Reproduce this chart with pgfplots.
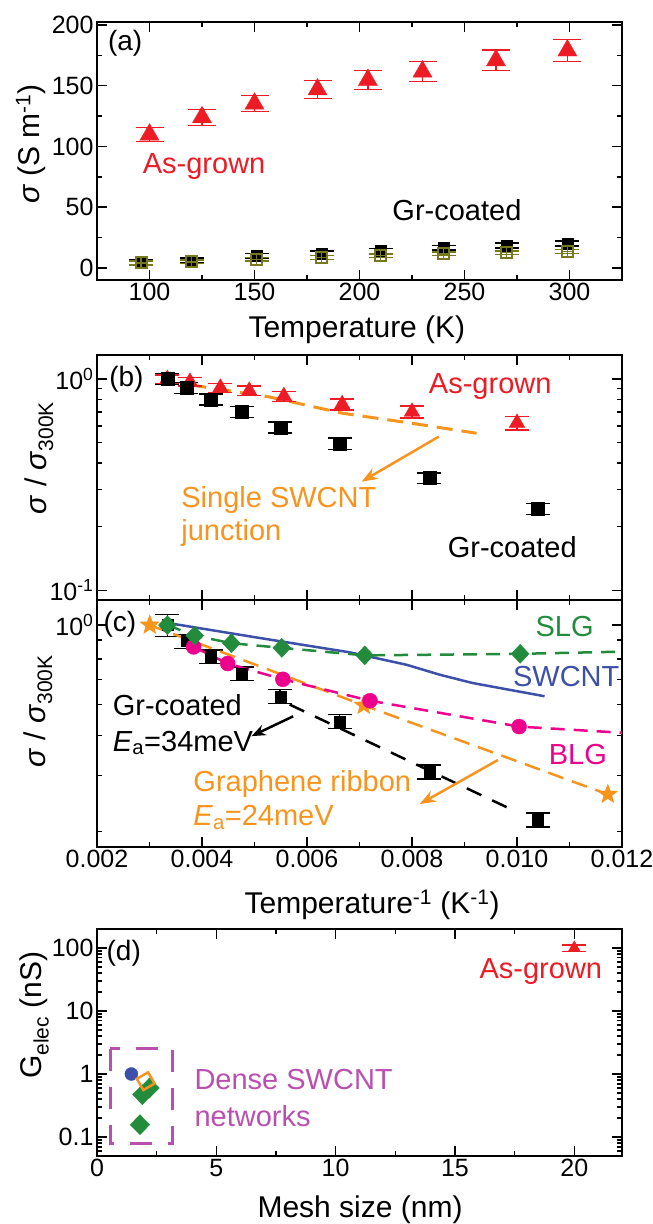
\documentclass[border=0pt]{standalone}
\usepackage{fontspec}
\setmainfont{Liberation Sans}
\usepackage{pgfplots}
\pgfplotsset{compat=1.18}
\usetikzlibrary{arrows.meta,plotmarks}
\definecolor{cred}{RGB}{237,28,36}
\definecolor{corange}{RGB}{247,148,29}
\definecolor{cgreen}{RGB}{35,140,60}
\definecolor{cblue}{RGB}{60,80,170}
\definecolor{cmag}{RGB}{236,0,140}
\definecolor{colive}{RGB}{120,120,30}
\definecolor{cpurple}{RGB}{185,80,175}
\newcommand{\fA}{\fontsize{29}{34}\selectfont}
\newcommand{\fP}{\fontsize{28}{32}\selectfont}
\pgfdeclareplotmark{fstar}{%
  \pgfpathmoveto{\pgfpointpolar{90}{\pgfplotmarksize}}%
  \pgfpathlineto{\pgfpointpolar{126}{0.42\pgfplotmarksize}}%
  \pgfpathlineto{\pgfpointpolar{162}{\pgfplotmarksize}}%
  \pgfpathlineto{\pgfpointpolar{198}{0.42\pgfplotmarksize}}%
  \pgfpathlineto{\pgfpointpolar{234}{\pgfplotmarksize}}%
  \pgfpathlineto{\pgfpointpolar{270}{0.42\pgfplotmarksize}}%
  \pgfpathlineto{\pgfpointpolar{306}{\pgfplotmarksize}}%
  \pgfpathlineto{\pgfpointpolar{342}{0.42\pgfplotmarksize}}%
  \pgfpathlineto{\pgfpointpolar{18}{\pgfplotmarksize}}%
  \pgfpathlineto{\pgfpointpolar{54}{0.42\pgfplotmarksize}}%
  \pgfpathclose
  \pgfusepathqfillstroke}
\pgfplotsset{
  panel/.style={
    scale only axis, width=525pt, anchor=south west, clip=false,
    axis line style={line width=2pt},
    tick style={line width=1.5pt, black},
    major tick length=10pt, minor tick length=5pt,
    tick align=inside,
    scaled x ticks=false, scaled y ticks=false,
    /pgf/number format/assume math mode=true,
    tick label style={font=\fontsize{25}{30}\selectfont},
    label style={font=\fontsize{30}{36}\selectfont},
    xlabel style={anchor=center}, ylabel style={anchor=center},
    every node/.append style={inner sep=0pt},
  },
  ebar/.style={error bars/.cd, y dir=both, y explicit,
     error bar style={line width=1.5pt},
     error mark options={rotate=90, line width=1.5pt, mark size=#1}},
}
\begin{document}
\begin{tikzpicture}
\useasboundingbox (0pt,0pt) rectangle (653pt,1224pt);
% ---------------- (a)
\begin{axis}[panel, at={(97pt,944pt)}, height=258pt,
  xmin=75, xmax=325, ymin=-10, ymax=202.5,
  xtick={100,150,200,250,300}, minor xtick={125,175,225,275},
  ytick={0,50,100,150,200}, minor ytick={25,75,125,175},
  xlabel={Temperature (K)}, ylabel={\textit{σ} (S m\textsuperscript{-1})},
  xlabel style={at={(axis description cs:0.495,-0.194)}},
  ylabel style={at={(axis description cs:-0.126,0.527)}},
]
\addplot[only marks, color=cred, mark=triangle*, mark size=11pt, ebar=14pt] coordinates {
(100,109.7) +- (0,5.8) (125,124) +- (0,6.6) (150,135.2) +- (0,6.6) (180,146.9) +- (0,7.3)
(204,154.7) +- (0,7.7) (230,161.6) +- (0,8.2) (265,170.9) +- (0,8.5) (299,179) +- (0,9.2)};
\addplot[only marks, color=black, mark=square*, mark size=5.5pt, ebar=12pt] coordinates {
(96,4.5) +- (0,2) (120,6) +- (0,2) (151,10) +- (0,2) (182,12) +- (0,2)
(210,14) +- (0,2) (240,16.5) +- (0,2) (270,18.5) +- (0,2) (299,20) +- (0,2)};
\addplot[only marks, color=colive, mark=square, mark size=5.5pt, mark options={line width=2pt}, ebar=12pt] coordinates {
(96,4) +- (0,1.5) (120,5) +- (0,1.5) (151,7) +- (0,1.5) (182,8.5) +- (0,1.5)
(210,10) +- (0,1.5) (240,11.5) +- (0,1.5) (270,12.5) +- (0,1.5) (299,13.5) +- (0,1.5)};
\addplot[only marks, color=colive, mark=+, mark size=5.5pt, mark options={line width=1.5pt}] coordinates {
(96,4) (120,5) (151,7) (182,8.5) (210,10) (240,11.5) (270,12.5) (299,13.5)};
\node[font=\fP, anchor=west] at (axis cs:78.6,185) {(a)};
\node[font=\fA, cred] at (axis cs:126,83.4) {As-grown};
\node[font=\fA] at (axis cs:246.4,47.7) {Gr-coated};
\end{axis}
% ---------------- (b)
\begin{axis}[panel, at={(97pt,624pt)}, height=245pt, ymode=log,
  xmin=0.002, xmax=0.012, ymin=0.09, ymax=1.3,
  xtick={0.004,0.006,0.008,0.010}, minor xtick={0.003,0.005,0.007,0.009,0.011},
  xticklabels={},
  ytick={0.1,1}, yticklabels={10\textsuperscript{-1},10\textsuperscript{0}},
  minor ytick={0.2,0.3,0.4,0.5,0.6,0.7,0.8,0.9},
  ylabel={\textit{σ} / \textit{σ}\textsubscript{300K}},
  ylabel style={at={(axis description cs:-0.11,0.58)}},
]
\addplot[no marks, corange, line width=3pt, dash pattern=on 16pt off 9pt] coordinates {
(0.00378,0.938) (0.00525,0.826) (0.00668,0.689) (0.00799,0.618) (0.00923,0.554)};
\addplot[only marks, color=cred, mark=triangle*, mark size=9pt, ebar=12pt] coordinates {
(0.00334,1.0) +- (0,0.045) (0.00377,0.97) +- (0,0.045) (0.00435,0.91) +- (0,0.045)
(0.0049,0.88) +- (0,0.045) (0.00556,0.83) +- (0,0.045) (0.00667,0.76) +- (0,0.045)
(0.008,0.70) +- (0,0.045) (0.01,0.62) +- (0,0.045)};
\addplot[only marks, color=black, mark=square*, mark size=6.5pt, ebar=12pt] coordinates {
(0.00334,1.0) +- (0,0.06) (0.0037,0.91) +- (0,0.055) (0.00417,0.80) +- (0,0.048)
(0.00476,0.70) +- (0,0.042) (0.00549,0.59) +- (0,0.035) (0.00662,0.495) +- (0,0.03)
(0.00833,0.34) +- (0,0.02) (0.0104,0.243) +- (0,0.015)};
\draw[corange, line width=2.5pt, -{Stealth[length=16pt,width=12pt]}] (axis cs:0.00851,0.534) -- (axis cs:0.00704,0.327);
\node[font=\fP] at (axis cs:0.00256,1.0) {(b)};
\node[font=\fA, cred] at (axis cs:0.00949,0.92) {As-grown};
\node[font=\fA, corange, anchor=west] at (axis cs:0.00354,0.268) {Single SWCNT};
\node[font=\fA, corange, anchor=west] at (axis cs:0.00354,0.186) {junction};
\node[font=\fA] at (axis cs:0.00991,0.161) {Gr-coated};
\end{axis}
% ---------------- (c)
\begin{axis}[panel, at={(97pt,377pt)}, height=247pt, ymode=log,
  xmin=0.002, xmax=0.012, ymin=0.2, ymax=1.2,
  xtick={0.002,0.004,0.006,0.008,0.010,0.012},
  xticklabels={0.002,0.004,0.006,0.008,0.010,0.012},
  minor xtick={0.003,0.005,0.007,0.009,0.011},
  ytick={1}, yticklabels={10\textsuperscript{0}},
  minor ytick={0.899,0.783,0.673,0.562,0.449,0.336,0.224},
  xlabel={Temperature\textsuperscript{-1} (K\textsuperscript{-1})},
  xlabel style={at={(axis description cs:0.524,-0.235)}},
  ylabel={\textit{σ} / \textit{σ}\textsubscript{300K}},
  ylabel style={at={(axis description cs:-0.112,0.55)}},
]
\addplot[no marks, black, line width=2.5pt, dash pattern=on 16pt off 12pt] coordinates {
(0.00567,0.562) (0.00995,0.26)};
\addplot[only marks, color=black, mark=square*, mark size=5.5pt, ebar=12pt] coordinates {
(0.00334,1.0) +- (0,0.08) (0.0037,0.89) +- (0,0.045) (0.00417,0.796) +- (0,0.04)
(0.00476,0.703) +- (0,0.035) (0.00549,0.597) +- (0,0.03) (0.00662,0.498) +- (0,0.025)
(0.00833,0.345) +- (0,0.017) (0.0104,0.2435) +- (0,0.012)};
\addplot[no marks, cblue, line width=2.5pt] coordinates {
(0.003408,1.012) (0.005026,0.915) (0.006814,0.821) (0.007899,0.750) (0.008527,0.698) (0.009155,0.657) (0.010525,0.597)};
\addplot[no marks, corange, line width=2.5pt, dash pattern=on 16pt off 9pt] coordinates {
(0.003005,1.0) (0.00708,0.559) (0.01173,0.293)};
\addplot[only marks, corange, mark=fstar, mark size=10pt, mark options={fill=corange, line width=0.5pt}] coordinates {
(0.003005,1.0) (0.00708,0.559) (0.01173,0.293)};
\addplot[no marks, cmag, line width=2.5pt, dash pattern=on 14pt off 9pt] coordinates {
(0.00384,0.854) (0.00449,0.757) (0.00554,0.675) (0.0072,0.578) (0.01004,0.479) (0.012,0.458)};
\addplot[only marks, cmag, mark=*, mark size=7.5pt] coordinates {
(0.00384,0.854) (0.00449,0.757) (0.00554,0.675) (0.0072,0.578) (0.01004,0.479)};
\addplot[no marks, cgreen, line width=2.5pt, dash pattern=on 14pt off 9pt] coordinates {
(0.00334,1.0) (0.00386,0.927) (0.00456,0.877) (0.00552,0.848) (0.0071,0.803) (0.01006,0.812) (0.012,0.825)};
\addplot[only marks, cgreen, mark=diamond*, mark size=9.5pt, mark options={xscale=1.25}] coordinates {
(0.00334,1.0) (0.00386,0.927) (0.00456,0.877) (0.00552,0.848) (0.0071,0.803) (0.01006,0.812)};
\draw[black, line width=2.5pt, -{Stealth[length=14pt,width=11pt]}] (axis cs:0.005735,0.516) -- (axis cs:0.004944,0.447);
\draw[corange, line width=2.5pt, -{Stealth[length=16pt,width=12pt]}] (axis cs:0.009637,0.376) -- (axis cs:0.008147,0.273);
\node[font=\fP] at (axis cs:0.002438,1.0066) {(c)};
\node[font=\fA, cgreen] at (axis cs:0.010906,0.989) {SLG};
\node[font=\fA, cblue] at (axis cs:0.010938,0.689) {SWCNT};
\node[font=\fA, cmag] at (axis cs:0.011159,0.3916) {BLG};
\node[font=\fA, anchor=base west] at (axis cs:0.002234,0.52) {Gr-coated};
\node[font=\fA, anchor=base west] at (axis cs:0.002234,0.401) {\textit{E}\textsubscript{a}=34meV};
\node[font=\fA, corange, anchor=base west] at (axis cs:0.00377,0.300) {Graphene ribbon};
\node[font=\fA, corange, anchor=base west] at (axis cs:0.00377,0.233) {\textit{E}\textsubscript{a}=24meV};
\end{axis}
% ---------------- (d)
\begin{axis}[panel, at={(97pt,68pt)}, height=227pt, ymode=log,
  xmin=0, xmax=22, ymin=0.05, ymax=200,
  xtick={0,5,10,15,20}, minor xtick={2.5,7.5,12.5,17.5},
  ytick={0.1,1,10,100}, yticklabels={0.1,1,10,100},
  minor ytick={0.06,0.07,0.08,0.09,0.2,0.3,0.4,0.5,0.6,0.7,0.8,0.9,2,3,4,5,6,7,8,9,20,30,40,50,60,70,80,90},
  xlabel={Mesh size (nm)}, ylabel={G\textsubscript{elec} (nS)},
  xlabel style={at={(axis description cs:0.501,-0.238)}},
  ylabel style={at={(axis description cs:-0.119,0.621)}},
]
\addplot[no marks, cpurple, line width=3pt, dash pattern=on 22pt off 16pt] coordinates {
(0.55,2.5) (0.55,0.079) (3.16,0.079) (3.16,2.5) (0.55,2.5)};
\addplot[only marks, cgreen, mark=diamond*, mark size=10pt, mark options={xscale=1.3}] coordinates {
(1.9,0.47) (2.2,0.6) (1.8,0.157)};
\addplot[only marks, cblue, mark=*, mark size=6.5pt] coordinates {(1.44,1.0)};
\addplot[only marks, corange, mark=square, mark size=6.5pt, mark options={rotate=30, line width=2.5pt}] coordinates {(2.04,0.77)};
\addplot[only marks, color=cred, mark=triangle*, mark size=7pt, ebar=12pt] coordinates {(20,100) +- (0,12)};
\node[font=\fP] at (axis cs:1.12,83.3) {(d)};
\node[font=\fA, cred] at (axis cs:18.6,42.5) {As-grown};
\node[font=\fA, cpurple, anchor=base west] at (axis cs:3.94,0.568) {Dense SWCNT};
\node[font=\fA, cpurple, anchor=base west] at (axis cs:3.94,0.149) {networks};
\end{axis}
\end{tikzpicture}
\end{document}
